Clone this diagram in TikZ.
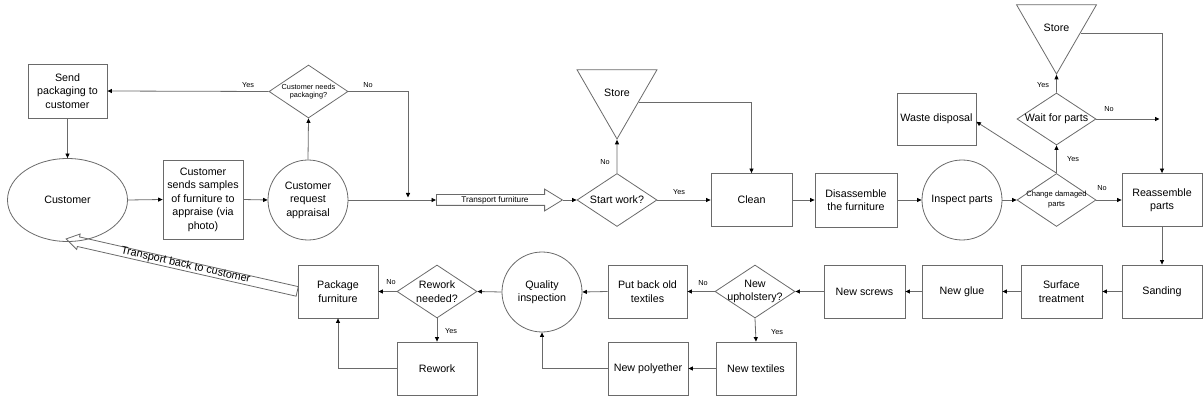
\documentclass[tikz,border=0pt]{standalone}
\usepackage{fontspec}
\setmainfont{Liberation Sans}
\usetikzlibrary{shapes.geometric,shapes.arrows,arrows.meta,calc}
\definecolor{lc}{HTML}{6A6A6A}
\begin{document}
\begin{tikzpicture}[x=1pt,y=-1pt,
  every node/.style={font=\fontsize{10.7}{13.5}\selectfont, text=black},
  box/.style={draw=lc, line width=0.8pt, rectangle, minimum width=80, minimum height=53, align=center, inner sep=1},
  circ/.style={draw=lc, line width=0.8pt, circle, minimum size=80, align=center, inner sep=0},
  dec/.style={draw=lc, line width=0.8pt, diamond, shape aspect=1.5, minimum width=80, minimum height=53, align=center, inner sep=-3pt},
  smalltext/.style={font=\fontsize{7.3}{8.2}\selectfont},
  store/.style={draw=lc, line width=0.8pt, regular polygon, regular polygon sides=3, shape border rotate=180, minimum size=92.4, inner sep=0},
  flow/.style={draw=lc, line width=0.8pt, -{Triangle[length=4.5pt,width=4pt,color=black]}},
  lbl/.style={font=\fontsize{7.3}{8}\selectfont, inner sep=0},
  bigarrow/.style={draw=lc, line width=0.8pt, single arrow, anchor=tail, inner xsep=0},
]
\useasboundingbox (0,0) rectangle (1203,401);

% ---- intake ----
\node[draw=lc, line width=0.8pt, ellipse, minimum width=120, minimum height=83] (cust) at (67.5,200) {Customer};
\node[box, minimum width=79, minimum height=54] (sendpack) at (67.5,91) {Send\\packaging to\\customer};
\node[box, minimum height=79] (samples) at (203,199.5) {Customer\\sends samples\\of furniture to\\appraise (via\\photo)};
\node[circ] (appr) at (308,200) {Customer\\request\\appraisal};
\node[dec, smalltext, minimum width=79] (needs) at (308.5,91.5) {Customer needs\\packaging?};

% ---- workshop, top row ----
\node[bigarrow, minimum height=126, minimum width=21, single arrow head extend=5.5,
      single arrow tip angle=63, text height=6, text depth=1.7, inner ysep=1.15,
      font=\fontsize{8.2}{10}\selectfont] (tf) at (436,200) {Transport furniture};
\node[dec] (start) at (617,200) {Start work?};
\node[store] (store1) at (617,92.8) {Store};
\node[box, minimum width=81] (clean) at (751.5,200) {Clean};
\node[box, minimum width=82, minimum height=54] (dis) at (856,200) {Disassemble\\the furniture};
\node[circ] (insp) at (962,200) {Inspect parts};
\node[dec, font=\fontsize{7.6}{10}\selectfont, minimum width=79] (change) at (1056.5,200) {Change damaged\\parts};
\node[dec, minimum width=79, minimum height=52] (wait) at (1056.5,119) {Wait for parts};
\node[store] (store2) at (1056.5,27.8) {Store};
\node[box, minimum width=79, minimum height=52] (waste) at (936.5,119) {Waste disposal};
\node[box] (reas) at (1162,200) {Reassemble\\parts};

% ---- finishing, bottom row ----
\node[box] (sand) at (1162,291.5) {Sanding};
\node[box, minimum width=81] (surf) at (1061.5,291.5) {Surface\\treatment};
\node[box] (glue) at (962,291.5) {New glue};
\node[box, minimum width=81] (screws) at (864.5,291.5) {New screws};
\node[dec] (uph) at (755,291.5) {New\\upholstery?};
\node[box, minimum width=79] (putback) at (647.5,291.5) {Put back old\\textiles};
\node[circ] (qual) at (542,292) {Quality\\inspection};
\node[dec] (rwn) at (437,291.5) {Rework\\needed?};
\node[box] (pkg) at (338,291.5) {Package\\furniture};
\node[box] (newtex) at (756,368.5) {New textiles};
\node[box] (poly) at (648,368.5) {New polyether};
\node[box] (rework) at (437,368.5) {Rework};

\node[bigarrow, shape border rotate=180, rotate=-12.8, minimum height=237, minimum width=15,
      single arrow head extend=3, single arrow tip angle=64, text height=5, text depth=1,
      inner ysep=1.5, font=\fontsize{10.9}{12}\selectfont] (back) at (pkg.west) {Transport back to customer};

% ---- connectors ----
\draw[flow] (cust.east) -- (samples.west);
\draw[flow] (samples.east) -- (appr.west);
\draw[flow] (appr.north) -- (needs.south);
\draw[flow] (needs.west) -- (sendpack.east);
\draw[flow] (sendpack.south) -- (cust.north);
\coordinate (join) at (408,197.5);
\draw[flow] (needs.east) -| (join);
\draw[flow] (appr.east) -- (tf.tail);
\draw[flow] (tf.tip) -- (start.west);
\draw[flow] (start.north) -- (store1.-90);
\draw[flow] (store1.-23) -| (clean.north);
\draw[flow] (start.east) -- (clean.west);
\draw[flow] (clean.east) -- (dis.west);
\draw[flow] (dis.east) -- (insp.west);
\draw[flow] (insp.east) -- (change.west);
\draw[flow] (change.east) -- (reas.west);
\draw[flow] (change.north) -- (wait.south);
\draw[flow] (change.north) -- (waste.-4);
\draw[flow] (wait.north) -- (store2.-90);
\draw[flow] (store2.-12) -| (reas.north);
\coordinate (waitend) at ($(reas.north |- wait.east)+(-2.5,0)$);
\draw[flow] (wait.east) -- (waitend);
\draw[flow] (reas.south) -- (sand.north);
\draw[flow] (sand.west) -- (surf.east);
\draw[flow] (surf.west) -- (glue.east);
\draw[flow] (glue.west) -- (screws.east);
\draw[flow] (screws.west) -- (uph.east);
\draw[flow] (uph.west) -- (putback.east);
\draw[flow] (uph.south) -- (newtex.north);
\draw[flow] (newtex.west) -- (poly.east);
\draw[flow] (poly.west) -| (qual.south);
\draw[flow] (putback.west) -- (qual.east);
\draw[flow] (qual.west) -- (rwn.east);
\draw[flow] (rwn.west) -- (pkg.east);
\draw[flow] (rwn.south) -- (rework.north);
\draw[flow] (rework.west) -| (pkg.south);

% ---- decision labels ----
\node[lbl] (l1) at (248,85) {Yes};
\node[lbl] (l2) at (368,85) {No};
\node[lbl] (l3) at (605,162) {No};
\node[lbl] (l4) at (679,192) {Yes};
\node[lbl] (l5) at (1102,188) {No};
\node[lbl] (l6) at (1073,159) {Yes};
\node[lbl] (l7) at (1043,85) {Yes};
\node[lbl] (l8) at (1109,109) {No};
\node[lbl] (l9) at (703,283) {No};
\node[lbl] (l10) at (777,332) {Yes};
\node[lbl] (l11) at (391,282) {No};
\node[lbl] (l12) at (451,331) {Yes};
\end{tikzpicture}
\end{document}
